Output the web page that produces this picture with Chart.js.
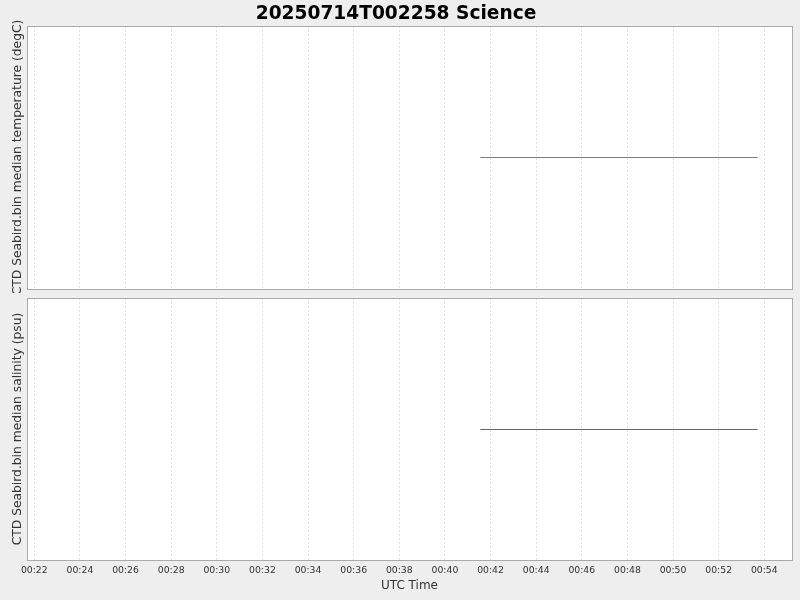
<!DOCTYPE html>
<html>
<head>
<meta charset="utf-8">
<script src="https://cdn.jsdelivr.net/npm/chart.js@4/dist/chart.umd.min.js"></script>
<style>
  body { margin: 0; background: #eeeeee; width: 800px; height: 600px; overflow: hidden; }
  canvas { position: absolute; left: 0; }
  #graficoTemp { top: 0; }
  #graficoSal { top: 293px; }
</style>
</head>
<body>
<canvas id="graficoTemp" width="800" height="293"></canvas>
<canvas id="graficoSal" width="800" height="307"></canvas>
<script>
// time in minutes after 00:00 UTC
const tempoMin = [41.55, 53.71];
const temperatura = [28.4, 28.4];
const salinidade = [34.1, 34.1];
const tickMin = [22, 24, 26, 28, 30, 32, 34, 36, 38, 40, 42, 44, 46, 48, 50, 52, 54];
const tickLabels = ['00:22', '00:24', '00:26', '00:28', '00:30', '00:32', '00:34', '00:36', '00:38',
  '00:40', '00:42', '00:44', '00:46', '00:48', '00:50', '00:52', '00:54'];

const FONTE = '"DejaVu Sans", sans-serif';

const moldura = {
  id: 'moldura',
  beforeDraw(chart) {
    const { ctx, chartArea: a } = chart;
    ctx.save();
    ctx.fillStyle = '#ffffff';
    ctx.fillRect(a.left, a.top, a.right - a.left, a.bottom - a.top);
    ctx.restore();
  },
  afterDraw(chart) {
    const { ctx, chartArea: a } = chart;
    ctx.save();
    ctx.strokeStyle = '#aaaaaa';
    ctx.lineWidth = 1;
    ctx.strokeRect(a.left + 0.5, a.top + 0.5, a.right - a.left, a.bottom - a.top);
    ctx.restore();
  }
};

function criar(id, valores, cor, tituloY, ehTopo) {
  const v = valores[0];
  new Chart(document.getElementById(id), {
    type: 'line',
    data: {
      datasets: [{
        data: tempoMin.map((t, i) => ({ x: t, y: valores[i] })),
        borderColor: cor,
        borderWidth: 1,
        pointRadius: 0,
        fill: false
      }]
    },
    options: {
      responsive: false,
      animation: false,
      layout: { padding: { left: 0, right: 8, top: ehTopo ? 0 : 5, bottom: 0 } },
      plugins: {
        legend: { display: false },
        tooltip: { enabled: false },
        title: {
          display: ehTopo,
          text: '20250714T002258 Science',
          color: '#000',
          font: { family: FONTE, size: 18.6, weight: 'bold' },
          padding: { top: 3, bottom: 0.68 }
        }
      },
      scales: {
        x: {
          type: 'linear',
          min: 21.68,
          max: 55.214,
          afterBuildTicks: s => { s.ticks = tickMin.map(t => ({ value: t })); },
          afterFit: s => { s.height = ehTopo ? 4 : 40; },
          border: { display: false, dash: [2, 2] },
          grid: { color: '#e2e2e2', drawTicks: false },
          ticks: {
            display: !ehTopo,
            padding: 5,
            color: '#333',
            maxRotation: 0,
            autoSkip: false,
            font: { family: FONTE, size: 9.3 },
            callback: (val, i) => tickLabels[i]
          },
          title: {
            display: !ehTopo,
            text: 'UTC Time',
            color: '#333',
            font: { family: FONTE, size: 12 },
            padding: { top: 0, bottom: 7 }
          }
        },
        y: {
          min: ehTopo ? v - 1 : v - 0.9924,
          max: v + 1,
          afterFit: s => { s.width = 27; },
          border: { display: false },
          grid: { display: false },
          ticks: { display: false },
          title: {
            display: true,
            text: tituloY,
            color: '#333',
            font: { family: FONTE, size: 12.3 },
            padding: { top: 10.5, bottom: 0 }
          }
        }
      }
    },
    plugins: [moldura]
  });
}

criar('graficoTemp', temperatura, 'rgb(220,85,85)', 'CTD Seabird.bin median temperature (degC)', true);
criar('graficoSal', salinidade, 'rgb(85,85,220)', 'CTD Seabird.bin median salinity (psu)', false);
</script>
</body>
</html>
